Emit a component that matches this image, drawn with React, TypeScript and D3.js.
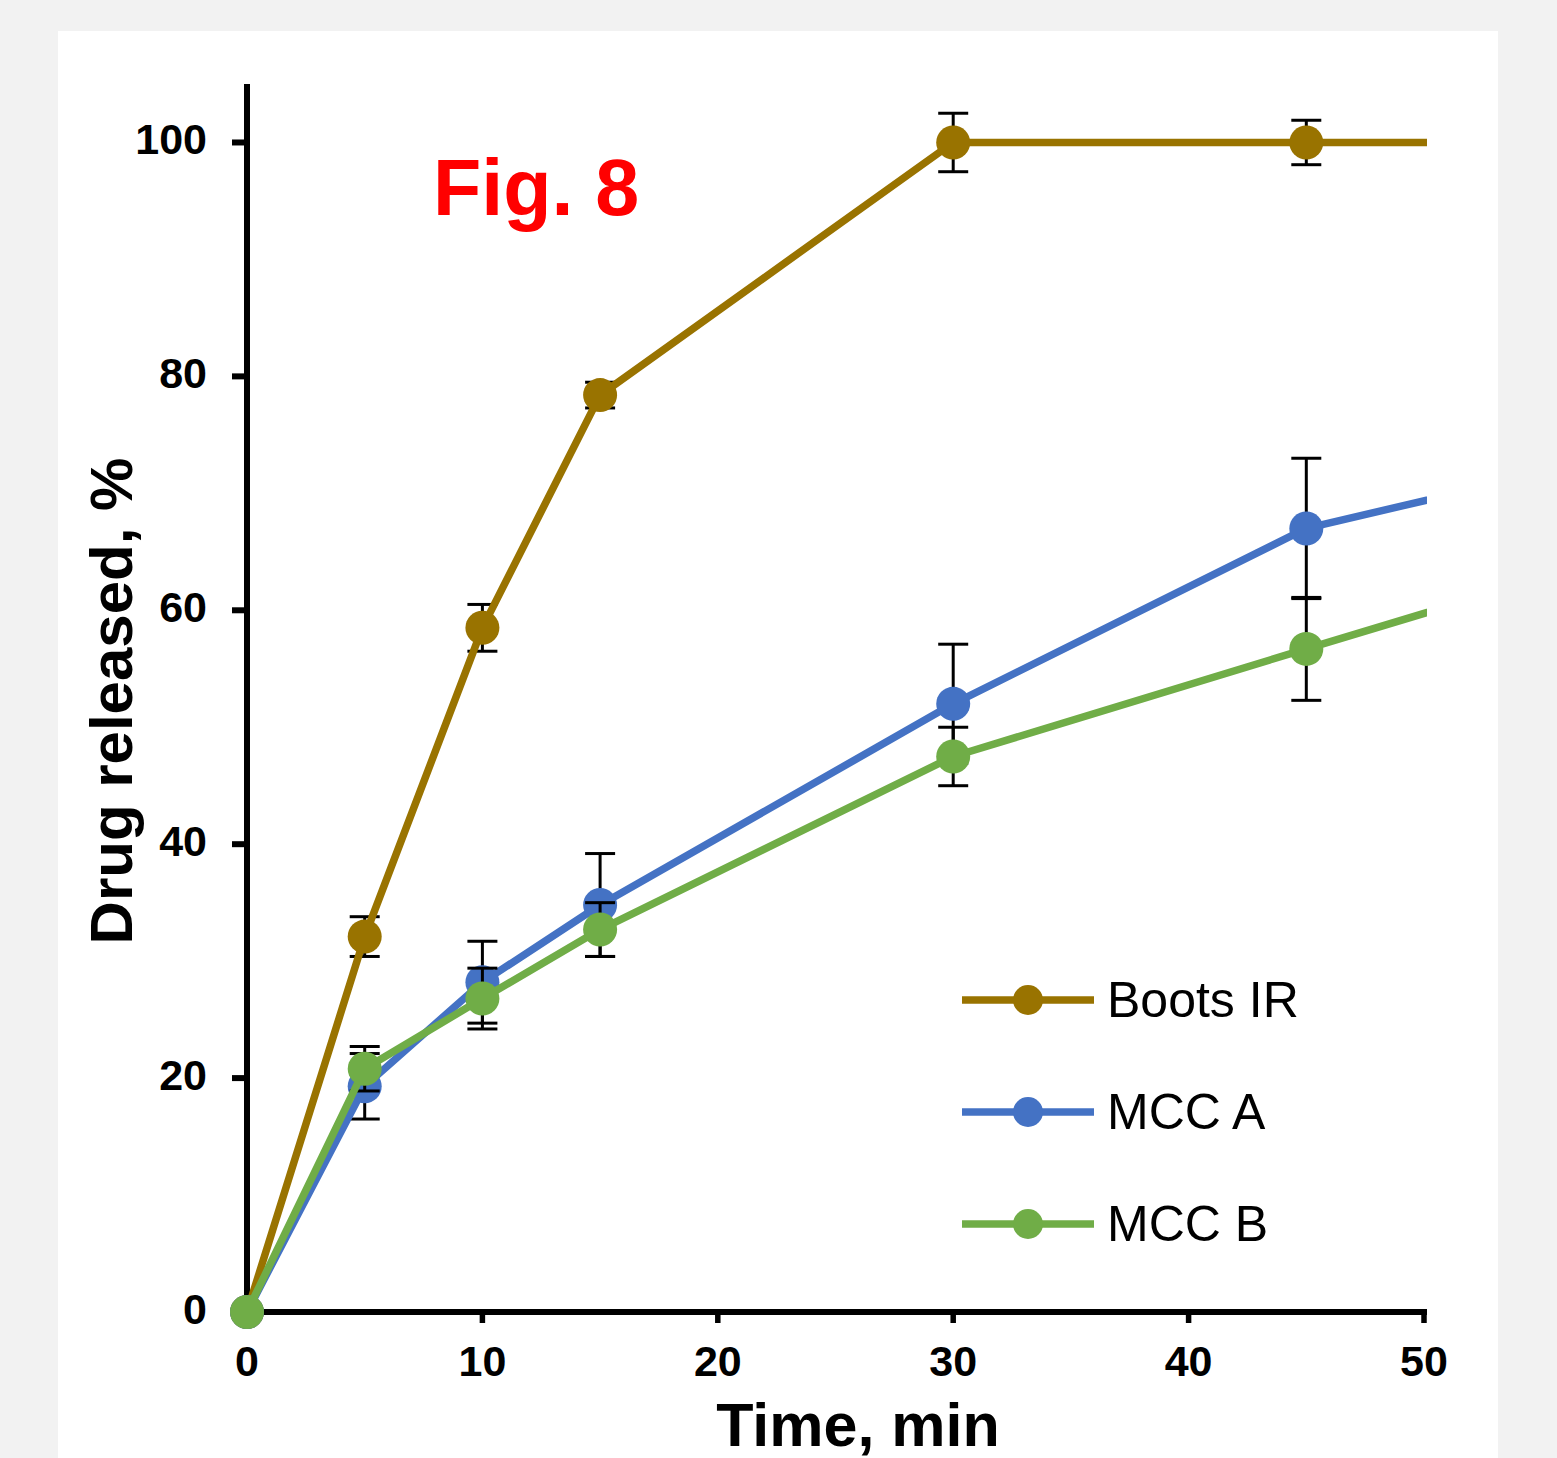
import React, { useMemo } from 'react';
import * as d3 from 'd3';

// time points (min); the 60 min point is outside the axis and gets clipped
const times = [0, 5, 10, 15, 30, 45, 60];

const bootsIR = [0, 32.1, 58.5, 78.4, 100, 100, 100];
const bootsErr = [0, 1.7, 2.0, 1.1, 2.5, 1.9, 0];
const mccA = [0, 19.3, 28.2, 34.8, 52.0, 67.0, 74.1];
const mccAErr = [0, 2.8, 3.5, 4.4, 5.1, 6.0, 0];
const mccB = [0, 20.8, 26.8, 32.7, 47.5, 56.7, 65.8];
const mccBErr = [0, 1.9, 2.6, 2.3, 2.5, 4.4, 0];

const seriesNames = ['Boots IR', 'MCC A', 'MCC B'];
const seriesColors = ['#997300', '#4472c4', '#70ad47'];

const xTicks = [0, 10, 20, 30, 40, 50];
const yTicks = [0, 20, 40, 60, 80, 100];

const W = 1557;
const H = 1458;
const FONT = '"Liberation Sans", Arial, sans-serif';

const App = () => {
  const x = d3.scaleLinear().domain([0, 50]).range([247, 1424]);
  const y = d3.scaleLinear().domain([0, 105]).range([1312, 84]);

  const series = useMemo(() => {
    const vals = [bootsIR, mccA, mccB];
    const errs = [bootsErr, mccAErr, mccBErr];
    return vals.map((v, i) => ({
      name: seriesNames[i],
      color: seriesColors[i],
      points: times.map((t, j) => ({ t, v: v[j], e: errs[i][j] })),
    }));
  }, []);

  const line = d3.line<{ t: number; v: number }>()
    .x(d => x(d.t))
    .y(d => y(d.v));

  const lineW = 7.5;
  const r = 17;

  return (
    <div style={{ position: 'absolute', left: 0, top: 0 }}>
      <svg width={W} height={H} style={{ display: 'block', fontFamily: FONT }}>
        <defs>
          <clipPath id="plot-clip">
            <rect x={0} y={0} width={x(50) + 3} height={H} />
          </clipPath>
        </defs>
        <rect x={0} y={0} width={W} height={H} fill="#f2f2f2" />
        <rect x={58} y={31} width={1440} height={H - 31} fill="#ffffff" />

        {/* Axes */}
        <line x1={x(0)} y1={84} x2={x(0)} y2={y(0) + 3} stroke="#000" strokeWidth={6} />
        <line x1={x(0) - 3} y1={y(0)} x2={x(50) + 3} y2={y(0)} stroke="#000" strokeWidth={6} />
        {yTicks.map(t => (
          <g key={`y-${t}`}>
            <line x1={x(0) - 15} y1={y(t)} x2={x(0)} y2={y(t)} stroke="#000" strokeWidth={6} />
            <text x={207} y={y(t) + 12} textAnchor="end" fontSize={43} fontWeight="bold" fill="#000">
              {t}
            </text>
          </g>
        ))}
        {xTicks.map(t => (
          <g key={`x-${t}`}>
            <line x1={x(t)} y1={y(0)} x2={x(t)} y2={y(0) + 11} stroke="#000" strokeWidth={5.5} />
            <text x={x(t)} y={1376} textAnchor="middle" fontSize={43} fontWeight="bold" fill="#000">
              {t}
            </text>
          </g>
        ))}

        {/* Axis titles */}
        <text x={858} y={1446} textAnchor="middle" fontSize={61} fontWeight="bold" fill="#000">
          Time, min
        </text>
        <text
          transform={`translate(132, 701) rotate(-90)`}
          textAnchor="middle"
          fontSize={60}
          fontWeight="bold"
          fill="#000"
        >
          Drug released, %
        </text>

        {/* Series */}
        <g clipPath="url(#plot-clip)">
          {series.map(s => (
            <g key={s.name}>
              {s.points.filter(p => p.e > 0).map(p => (
                <g key={`e-${p.t}`} stroke="#000" strokeWidth={3}>
                  <line x1={x(p.t)} y1={y(p.v + p.e)} x2={x(p.t)} y2={y(p.v - p.e)} />
                  <line x1={x(p.t) - 15} y1={y(p.v + p.e)} x2={x(p.t) + 15} y2={y(p.v + p.e)} />
                  <line x1={x(p.t) - 15} y1={y(p.v - p.e)} x2={x(p.t) + 15} y2={y(p.v - p.e)} />
                </g>
              ))}
              <path d={line(s.points) || ''} fill="none" stroke={s.color} strokeWidth={lineW} strokeLinejoin="round" />
              {s.points.map(p => (
                <circle key={`m-${p.t}`} cx={x(p.t)} cy={y(p.v)} r={r} fill={s.color} />
              ))}
            </g>
          ))}
        </g>

        {/* Legend */}
        {series.map((s, i) => {
          const ly = 1000 + i * 112;
          return (
            <g key={`lg-${s.name}`}>
              <line x1={962} y1={ly} x2={1094} y2={ly} stroke={s.color} strokeWidth={lineW} />
              <circle cx={1028} cy={ly} r={15} fill={s.color} />
              <text x={1107} y={ly + 17} fontSize={50} fill="#000">
                {s.name}
              </text>
            </g>
          );
        })}

        {/* Figure label */}
        <text x={433} y={215} fontSize={79} fontWeight="bold" fill="#ff0000">
          Fig. 8
        </text>
      </svg>
    </div>
  );
};

export default App;
